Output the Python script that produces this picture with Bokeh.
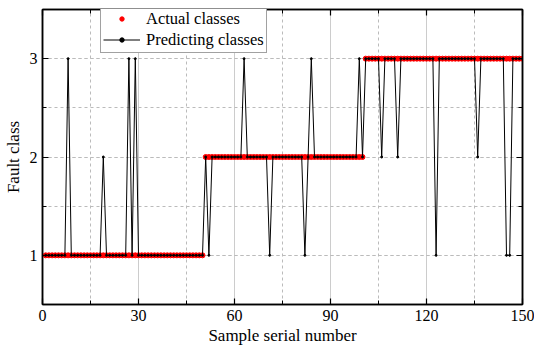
from bokeh.plotting import figure
from bokeh.models import (LinearAxis, SingleIntervalTicker, Range1d, Legend, LegendItem,
                          CustomJSTickFormatter)
from bokeh.embed import file_html
from bokeh.resources import INLINE

samples = list(range(1, 151))
actual = [
    1, 1, 1, 1, 1, 1, 1, 1, 1, 1, 1, 1, 1, 1, 1, 1, 1, 1, 1, 1, 1, 1, 1, 1, 1,
    1, 1, 1, 1, 1, 1, 1, 1, 1, 1, 1, 1, 1, 1, 1, 1, 1, 1, 1, 1, 1, 1, 1, 1, 1,
    2, 2, 2, 2, 2, 2, 2, 2, 2, 2, 2, 2, 2, 2, 2, 2, 2, 2, 2, 2, 2, 2, 2, 2, 2,
    2, 2, 2, 2, 2, 2, 2, 2, 2, 2, 2, 2, 2, 2, 2, 2, 2, 2, 2, 2, 2, 2, 2, 2, 2,
    3, 3, 3, 3, 3, 3, 3, 3, 3, 3, 3, 3, 3, 3, 3, 3, 3, 3, 3, 3, 3, 3, 3, 3, 3,
    3, 3, 3, 3, 3, 3, 3, 3, 3, 3, 3, 3, 3, 3, 3, 3, 3, 3, 3, 3, 3, 3, 3, 3, 3,
]
predicted = [
    1, 1, 1, 1, 1, 1, 1, 3, 1, 1, 1, 1, 1, 1, 1, 1, 1, 1, 2, 1, 1, 1, 1, 1, 1,
    1, 3, 1, 3, 1, 1, 1, 1, 1, 1, 1, 1, 1, 1, 1, 1, 1, 1, 1, 1, 1, 1, 1, 1, 1,
    2, 1, 2, 2, 2, 2, 2, 2, 2, 2, 2, 2, 3, 2, 2, 2, 2, 2, 2, 2, 1, 2, 2, 2, 2,
    2, 2, 2, 2, 2, 2, 1, 2, 3, 2, 2, 2, 2, 2, 2, 2, 2, 2, 2, 2, 2, 2, 2, 3, 2,
    3, 3, 3, 3, 3, 2, 3, 3, 3, 3, 2, 3, 3, 3, 3, 3, 3, 3, 3, 3, 3, 3, 1, 3, 3,
    3, 3, 3, 3, 3, 3, 3, 3, 3, 3, 2, 3, 3, 3, 3, 3, 3, 3, 3, 1, 1, 3, 3, 3, 3,
]
x_ticks_interval = 30
y_ticks_interval = 1

FONT = "Liberation Serif"

p = figure(width=534, height=347, x_range=Range1d(0, 150), y_range=Range1d(0.5, 3.5),
           output_backend="svg", toolbar_location=None,
           min_border_left=42, min_border_right=12, min_border_top=9, min_border_bottom=42)
p.background_fill_color = "white"
p.border_fill_color = "white"
p.outline_line_color = "black"
p.outline_line_width = 1.5

p.xaxis.ticker = SingleIntervalTicker(interval=x_ticks_interval, num_minor_ticks=2)
p.yaxis.ticker = SingleIntervalTicker(interval=y_ticks_interval, num_minor_ticks=2)

for ax in [p.xaxis[0], p.yaxis[0]]:
    ax.major_tick_in = 6
    ax.major_tick_out = 0
    ax.minor_tick_in = 4
    ax.minor_tick_out = 0
    ax.axis_line_color = "black"
    ax.axis_line_width = 1.5
    ax.major_tick_line_width = 1.2
    ax.major_label_text_font = FONT
    ax.major_label_text_font_size = "16px"
    ax.major_label_text_color = "black"
    ax.axis_label_text_font = FONT
    ax.axis_label_text_font_size = "17px"
    ax.axis_label_text_font_style = "normal"
    ax.axis_label_text_color = "black"

p.xaxis.axis_label = "Sample serial number"
p.yaxis.axis_label = "Fault class"
p.xaxis.major_label_standoff = 5
p.xaxis.axis_label_standoff = 2
p.yaxis.major_label_standoff = 5
p.yaxis.axis_label_standoff = 4

for loc, tk in [("above", SingleIntervalTicker(interval=x_ticks_interval, num_minor_ticks=2)),
                ("right", SingleIntervalTicker(interval=y_ticks_interval, num_minor_ticks=2))]:
    ax = LinearAxis(ticker=tk, formatter=CustomJSTickFormatter(code="return ''"))
    ax.major_tick_in = 6
    ax.major_tick_out = 0
    ax.minor_tick_in = 4
    ax.minor_tick_out = 0
    ax.major_label_standoff = 0
    ax.axis_line_width = 1.5
    ax.major_tick_line_width = 1.2
    p.add_layout(ax, loc)

p.xgrid.grid_line_color = "#cccccc"
p.xgrid.grid_line_width = 1
p.xgrid.minor_grid_line_color = "#bbbbbb"
p.xgrid.minor_grid_line_dash = "3 3"
p.ygrid.grid_line_color = "#bbbbbb"
p.ygrid.grid_line_dash = "3 3"
p.ygrid.minor_grid_line_color = "#bbbbbb"
p.ygrid.minor_grid_line_dash = "3 3"

r_act = p.scatter(samples, actual, size=5, color="#ff0000", line_color="#ff0000")
r_line = p.line(samples, predicted, line_color="black", line_width=1)
r_pts = p.scatter(samples, predicted, size=2, color="black")

legend = Legend(items=[LegendItem(label="Actual classes", renderers=[r_act]),
                       LegendItem(label="Predicting classes", renderers=[r_line, r_pts])],
                location=(58, 251))
legend.label_text_font = FONT
legend.label_text_font_size = "16.5px"
legend.label_text_color = "black"
legend.border_line_color = "#444444"
legend.border_line_width = 1
legend.padding = 2
legend.spacing = 0
legend.glyph_width = 37
legend.glyph_height = 11
legend.label_height = 21
legend.label_standoff = 6
legend.margin = 0
legend.background_fill_alpha = 1
p.add_layout(legend, "center")

open("out.html", "w").write(file_html(p, INLINE))
